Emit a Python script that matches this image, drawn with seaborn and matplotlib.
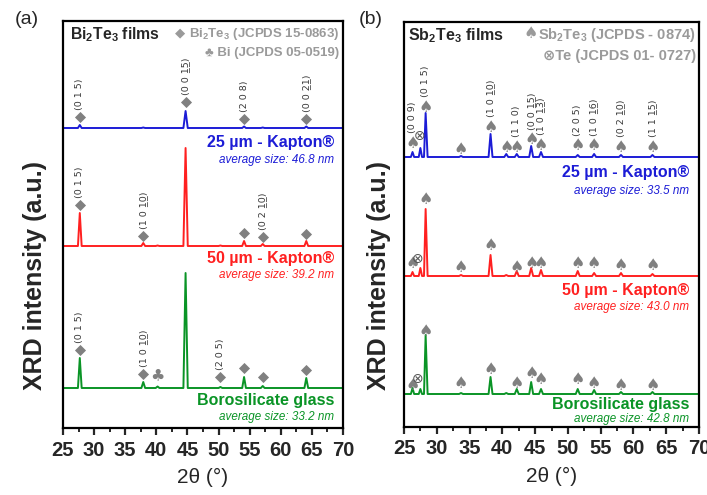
import pandas as pd
import matplotlib
matplotlib.use("Agg")
import matplotlib.pyplot as plt
from matplotlib.ticker import MultipleLocator
import seaborn as sns

# ---------------- data ----------------
# (a) Bi2Te3 films : 2theta grid and intensity above each baseline (a.u.)
A_TWO_THETA = [25.0, 27.4, 27.7, 28.0, 37.6, 37.9, 38.2, 39.9, 40.2, 40.5,
               44.35, 44.7, 45.05, 50.0, 50.3, 50.6, 53.8, 54.1, 54.4,
               56.8, 57.1, 57.4, 63.8, 64.1, 64.4, 70.0]
A_KAPTON25 = [0, 0, 3, 0, 0, 0.5, 0, 0, 0, 0, 0, 17, 0, 0, 0, 0,
              0, 1.5, 0, 0, 0.5, 0, 0, 1.5, 0, 0]
A_KAPTON50 = [0, 0, 33, 0, 0, 3, 0, 0, 0.5, 0, 0, 98, 0, 0, 0.5, 0,
              0, 5, 0, 0, 2, 0, 0, 5, 0, 0]
A_GLASS = [0, 0, 30, 0, 0, 6, 0, 0, 1.5, 0, 0, 115, 0, 0, 1, 0,
           0, 11, 0, 0, 2, 0, 0, 10, 0, 0]

# (b) Sb2Te3 films
B_TWO_THETA = [25.0, 26.05, 26.3, 26.55, 27.25, 27.5, 27.75, 28.05, 28.3, 28.6,
               33.4, 33.7, 34.0, 37.9, 38.2, 38.5, 40.3, 40.6, 40.9,
               41.9, 42.2, 42.5, 44.1, 44.4, 44.7, 45.6, 45.9, 46.2,
               51.2, 51.5, 51.8, 53.7, 54.0, 54.3, 57.8, 58.1, 58.4,
               62.6, 62.9, 63.2, 70.0]
B_KAPTON25 = [0, 0, 5, 0, 0, 9, 0, 0, 44, 0, 0, 1, 0, 0, 23, 0, 0, 3, 0,
              0, 3, 0, 0, 11, 0, 0, 5, 0, 0, 2, 0, 0, 3, 0, 0, 2, 0, 0, 2, 0, 0]
B_KAPTON50 = [0, 0, 4, 0, 0, 8, 0, 0, 67, 0, 0, 1, 0, 0, 21, 0, 0, 1, 0,
              0, 5, 0, 0, 8, 0, 0, 6, 0, 0, 5, 0, 0, 3, 0, 0, 3, 0, 0, 2, 0, 0]
B_GLASS = [0, 0, 6, 0, 0, 5, 0, 0, 59, 0, 0, 1, 0, 0, 17, 0, 0, 1, 0,
           0, 5, 0, 0, 12, 0, 0, 5, 0, 0, 5, 0, 0, 4, 0, 0, 2, 0, 0, 2, 0, 0]

SAMPLES = ["25 µm - Kapton®", "50 µm - Kapton®", "Borosilicate glass"]
A_SIZES = ["average size: 46.8 nm", "average size: 39.2 nm", "average size: 33.2 nm"]
B_SIZES = ["average size: 33.5 nm", "average size: 43.0 nm", "average size: 42.8 nm"]

# reflection markers: position, height above the trace baseline, hkl, phase
UL = "\u0332"
def ul(s):
    return "".join(c + UL for c in s)

A25_MK_X = [27.7, 44.7, 54.1, 64.1]
A25_MK_Y = [11, 26, 9, 9]
A25_MK_HKL = ["(0 1 5)", "(0 0 " + ul("15") + ")", "(2 0 8)", "(0 0 " + ul("21") + ")"]
A25_MK_PHASE = ["main"] * 4

A50_MK_X = [27.7, 37.9, 54.1, 57.1, 64.1]
A50_MK_Y = [41, 10, 13, 9, 12]
A50_MK_HKL = ["(0 1 5)", "(1 0 " + ul("10") + ")", "", "(0 2 " + ul("10") + ")", ""]
A50_MK_PHASE = ["main"] * 5

AG_MK_X = [27.7, 37.9, 40.2, 50.3, 54.1, 57.1, 64.1]
AG_MK_Y = [38, 14, 12, 11, 20, 11, 18]
AG_MK_HKL = ["(0 1 5)", "(1 0 " + ul("10") + ")", "", "(2 0 5)", "", "", ""]
AG_MK_PHASE = ["main", "main", "Bi", "main", "main", "main", "main"]

B25_MK_X = [26.3, 27.3, 28.3, 33.7, 38.2, 40.6, 42.2, 44.4, 45.9, 51.5, 54.0, 58.1, 62.9]
B25_MK_Y = [14, 21, 50, 8, 30, 9, 10, 17, 12, 11, 11, 10, 10]
B25_MK_HKL = ["(0 0 9)", "", "(0 1 5)", "", "(1 0 " + ul("10") + ")", "", "(1 1 0)",
              "(0 0 " + ul("15") + ")", "(1 0 " + ul("13") + ")", "(2 0 5)",
              "(1 0 " + ul("16") + ")", "(0 2 " + ul("10") + ")", "(1 1 " + ul("15") + ")"]
B25_MK_PHASE = ["main", "Te"] + ["main"] * 11

B50_MK_X = [26.3, 27.1, 28.3, 33.7, 38.2, 42.2, 44.4, 45.9, 51.5, 54.0, 58.1, 62.9]
B50_MK_Y = [13, 17, 76, 9, 30, 9, 12, 13, 13, 12, 10, 10]
B50_MK_HKL = [""] * 12
B50_MK_PHASE = ["main", "Te"] + ["main"] * 10

BG_MK_X = [26.3, 27.1, 28.3, 33.7, 38.2, 42.2, 44.4, 45.9, 51.5, 54.0, 58.1, 62.9]
BG_MK_Y = [9, 15, 62, 11, 24, 11, 21, 15, 15, 11, 9, 8]
BG_MK_HKL = [""] * 12
BG_MK_PHASE = ["main", "Te"] + ["main"] * 10

# ---------------- style / layout ----------------
sns.set_style("white")
plt.rcParams["font.family"] = ["Liberation Sans", "DejaVu Sans"]
plt.rcParams["mathtext.fontset"] = "custom"
plt.rcParams["mathtext.rm"] = "Liberation Sans:bold"
plt.rcParams["mathtext.bf"] = "Liberation Sans:bold"
plt.rcParams["mathtext.default"] = "bf"

COLORS = ["#1c1cd6", "#ff2020", "#0a9426"]
GRAY = "#808080"
LEG_GRAY = "#9a9a9a"
W, H = 707, 495

fig = plt.figure(figsize=(W / 100, H / 100), dpi=100)


def px_axes(left, top, right, bottom):
    return fig.add_axes([left / W, 1 - bottom / H, (right - left) / W, (bottom - top) / H])


def fig_text(x, y, s, **kw):
    return fig.text(x / W, 1 - y / H, s, **kw)


def style_axes(ax, height):
    ax.set_xlim(25, 70)
    ax.set_ylim(0, height)
    ax.set_yticks([])
    ax.xaxis.set_major_locator(MultipleLocator(5))
    ax.xaxis.set_minor_locator(MultipleLocator(2.5))
    for sp in ax.spines.values():
        sp.set_visible(True)
        sp.set_linewidth(1.6)
        sp.set_color("black")
    ax.tick_params(axis="x", which="major", direction="out", length=5, width=1.6,
                   bottom=True, labelsize=14.5, pad=4)
    ax.tick_params(axis="x", which="minor", direction="out", length=3, width=1.4, bottom=True)
    for lbl in ax.get_xticklabels():
        lbl.set_weight("bold")
    ax.set_xlabel("2θ (°)", fontsize=15, labelpad=6)
    ax.set_ylabel("")


def draw_traces(ax, grid, traces, offsets):
    frames = []
    for name, vals, off in zip(SAMPLES, traces, offsets):
        frames.append(pd.DataFrame({"two_theta": grid,
                                    "intensity": [v + off for v in vals],
                                    "sample": name}))
    df = pd.concat(frames, ignore_index=True)
    sns.lineplot(data=df, x="two_theta", y="intensity", hue="sample",
                 palette=dict(zip(SAMPLES, COLORS)), estimator=None, sort=False,
                 legend=False, linewidth=1.4, ax=ax)


def draw_markers(ax, xs, ys, hkls, phases, off, gap_label, diamonds):
    for x, y, hkl, ph in zip(xs, ys, hkls, phases):
        yy = off + y
        if ph == "main" and diamonds:
            ax.scatter([x], [yy], marker="D", s=32, color=GRAY, zorder=4, linewidths=0)
        elif ph == "main":
            ax.text(x, yy, "♠", ha="center", va="center", fontsize=11.5, color=GRAY,
                    family="DejaVu Sans", zorder=4)
        elif ph == "Bi":
            ax.text(x, yy, "♣", ha="center", va="center", fontsize=11.5, color=GRAY,
                    family="DejaVu Sans", zorder=4)
        else:
            ax.text(x, yy, "⊗", ha="center", va="center", fontsize=10, color="#555555",
                    family="DejaVu Sans", zorder=4)
        if hkl:
            ax.text(x, yy + gap_label, hkl, rotation=90, ha="center", va="bottom",
                    fontsize=6.8, color="#383838", family="DejaVu Sans")


# ---------------- panel (a) ----------------
ax_a = px_axes(63, 21, 343, 428)
A_OFF = [300, 182, 40]
draw_traces(ax_a, A_TWO_THETA, [A_KAPTON25, A_KAPTON50, A_GLASS], A_OFF)
draw_markers(ax_a, A25_MK_X, A25_MK_Y, A25_MK_HKL, A25_MK_PHASE, A_OFF[0], 7, True)
draw_markers(ax_a, A50_MK_X, A50_MK_Y, A50_MK_HKL, A50_MK_PHASE, A_OFF[1], 7, True)
draw_markers(ax_a, AG_MK_X, AG_MK_Y, AG_MK_HKL, AG_MK_PHASE, A_OFF[2], 7, True)
style_axes(ax_a, 407)

# ---------------- panel (b) ----------------
ax_b = px_axes(404, 22, 699, 427)
B_OFF = [270, 151, 33]
draw_traces(ax_b, B_TWO_THETA, [B_KAPTON25, B_KAPTON50, B_GLASS], B_OFF)
draw_markers(ax_b, B25_MK_X, B25_MK_Y, B25_MK_HKL, B25_MK_PHASE, B_OFF[0], 10, False)
draw_markers(ax_b, B50_MK_X, B50_MK_Y, B50_MK_HKL, B50_MK_PHASE, B_OFF[1], 10, False)
draw_markers(ax_b, BG_MK_X, BG_MK_Y, BG_MK_HKL, BG_MK_PHASE, B_OFF[2], 10, False)
style_axes(ax_b, 405)

# ---------------- texts ----------------
fig_text(70, 35, r"Bi$_2$Te$_3$ films", fontsize=11.3, weight="bold", va="center")
leg_a = fig_text(339, 34, r"Bi$_2$Te$_3$ (JCPDS 15-0863)", fontsize=9.5, weight="bold",
                 color=LEG_GRAY, ha="right", va="center")
fig_text(339, 53, "♣ Bi (JCPDS 05-0519)", fontsize=9.5, weight="bold",
         color=LEG_GRAY, ha="right", va="center")

fig_text(408, 36, r"Sb$_2$Te$_3$ films", fontsize=11.5, weight="bold", va="center")
leg_b = fig_text(696, 35, r"Sb$_2$Te$_3$ (JCPDS - 0874)", fontsize=10.5, weight="bold",
                 color=LEG_GRAY, ha="right", va="center")
fig_text(696, 56, "⊗Te (JCPDS 01- 0727)", fontsize=10.5, weight="bold",
         color=LEG_GRAY, ha="right", va="center")

# phase symbols placed just left of the mathtext legend entries
fig.canvas.draw()
x0a = leg_a.get_window_extent().x0
fig.text((x0a - 3) / W, 1 - 33 / H, "◆", fontsize=9.5, color=LEG_GRAY, ha="right",
         va="center", family="DejaVu Sans")
x0b = leg_b.get_window_extent().x0
fig.text((x0b - 1) / W, 1 - 34 / H, "♠", fontsize=11.5, color=LEG_GRAY, ha="right",
         va="center", family="DejaVu Sans")

A_NAME_Y = [143, 259, 401]
A_SIZE_Y = [160, 275, 417]
for name, size, c, yn, ys in zip(SAMPLES, A_SIZES, COLORS, A_NAME_Y, A_SIZE_Y):
    fig_text(334, yn, name, fontsize=11.5, weight="bold", color=c, ha="right", va="center")
    fig_text(334, ys, size, fontsize=8.4, style="italic", color=c, ha="right", va="center")

B_NAME_Y = [173, 290, 404]
B_SIZE_Y = [191, 307, 419]
for name, size, c, yn, ys in zip(SAMPLES, B_SIZES, COLORS, B_NAME_Y, B_SIZE_Y):
    fig_text(689, yn, name, fontsize=11.5, weight="bold", color=c, ha="right", va="center")
    fig_text(689, ys, size, fontsize=8.4, style="italic", color=c, ha="right", va="center")

fig_text(35, 275, "XRD intensity (a.u.)", fontsize=18, weight="bold", rotation=90,
         ha="center", va="center")
fig_text(379, 275, "XRD intensity (a.u.)", fontsize=18, weight="bold", rotation=90,
         ha="center", va="center")
fig_text(27, 19, "(a)", fontsize=14, ha="center", va="center")
fig_text(371, 19, "(b)", fontsize=14, ha="center", va="center")

fig.savefig("out.png", dpi=100)
